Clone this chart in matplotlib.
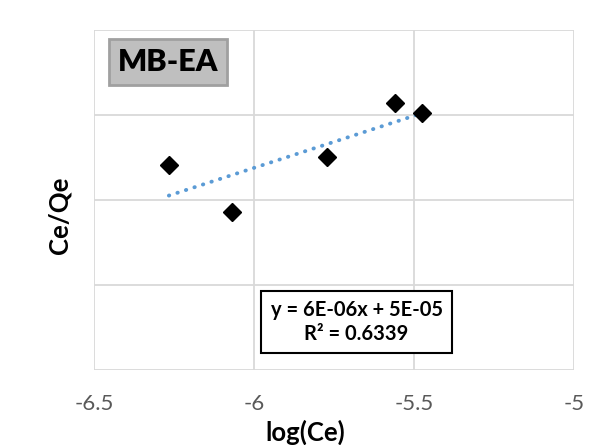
import numpy as np
import matplotlib
matplotlib.use('Agg')
import matplotlib.pyplot as plt

plt.rcParams['font.family'] = ['Lato', 'DejaVu Sans']

# データ
log_ce = [-6.266, -6.069, -5.772, -5.559, -5.475]
ce_qe = [1.206e-5, 0.929e-5, 1.253e-5, 1.571e-5, 1.512e-5]
x_ticks = [-6.5, -6, -5.5, -5]
x_tick_labels = ['-6.5', '-6', '-5.5', '-5']
sample_name = 'MB-EA'
eq_text = 'y = 6E-06x + 5E-05\nR² = 0.6339'

fig = plt.figure(figsize=(6.03, 4.45), dpi=100)
ax = fig.add_axes([94 / 603, 75 / 445, 480 / 603, 340 / 445])

# 散布図
ax.plot(log_ce, ce_qe, linestyle='none', marker='D', markersize=9,
        color='black', zorder=3)

# 近似直線
coef = np.polyfit(log_ce, ce_qe, 1)
xl = np.array([min(log_ce), max(log_ce)])
ax.plot(xl, np.polyval(coef, xl), color='#5b9bd5', linewidth=2.8,
        linestyle=(0, (0.1, 2.2)), dash_capstyle='round', zorder=2)

ax.set_xlim(-6.5, -5)
ax.set_ylim(0, 2e-5)
ax.set_xticks(x_ticks)
ax.set_xticklabels(x_tick_labels, fontsize=16, color='#595959')
ax.set_yticks(np.arange(0, 2.01e-5, 0.5e-5))
ax.set_yticklabels([])
ax.tick_params(length=0, pad=17)
ax.grid(True, color='#d9d9d9', linewidth=1.3)
ax.set_axisbelow(True)
for s in ax.spines.values():
    s.set_visible(False)

ax.set_xlabel('log(Ce)', fontsize=18.5, fontweight='bold')
ax.xaxis.set_label_coords(0.44, -0.145)
ax.set_ylabel('Ce/Qe', fontsize=18.5, fontweight='bold')
ax.yaxis.set_label_coords(-0.046, 0.456)

ax.text(0.154, 0.905, sample_name, transform=ax.transAxes, fontsize=22,
        fontweight='heavy', ha='center', va='center',
        bbox=dict(boxstyle='square,pad=0.3', facecolor='#bfbfbf',
                  edgecolor='#a0a0a0', linewidth=2))

ax.text(0.547, 0.141, eq_text, transform=ax.transAxes, fontsize=14.5,
        fontweight='bold', ha='center', va='center', linespacing=1.2,
        bbox=dict(boxstyle='square,pad=0.45', facecolor='white',
                  edgecolor='black', linewidth=1.5))

fig.savefig('out.png', dpi=100)
